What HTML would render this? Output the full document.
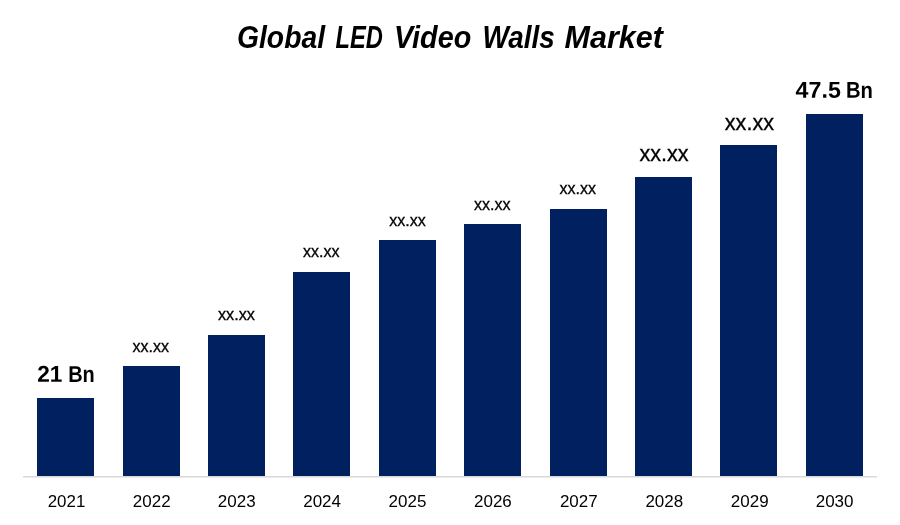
<!DOCTYPE html>
<html lang="en">
<head>
<meta charset="utf-8">
<title>Global LED Video Walls Market</title>
<style>
  html, body { margin: 0; padding: 0; background: #ffffff; }
  body { width: 900px; height: 525px; overflow: hidden; }
  svg { display: block; }
  text { font-family: "Liberation Sans", sans-serif; fill: #000000; }
  .title { font-size: 30px; font-weight: bold; font-style: italic; }
  .yr { font-size: 17px; fill: #000000; }
  .sm { font-size: 17px; stroke: #000; stroke-width: 0.3px; }
  .lg { font-size: 22px; stroke: #000; stroke-width: 0.3px; }
  .bn { font-size: 23px; font-weight: bold; }
  .bar { fill: #002060; }
</style>
</head>
<body>
<svg width="900" height="525" viewBox="0 0 900 525">
  <rect x="0" y="0" width="900" height="525" fill="#ffffff"/>

  <!-- title -->
  <text class="title" y="47" transform="matrix(1 0 0 1.02 0 -0.4)"><tspan x="237" textLength="88" lengthAdjust="spacingAndGlyphs">Global</tspan> <tspan x="335.6" textLength="47.4" lengthAdjust="spacingAndGlyphs">LED</tspan> <tspan x="394" textLength="77.3" lengthAdjust="spacingAndGlyphs">Video</tspan> <tspan x="482.4" textLength="72.4" lengthAdjust="spacingAndGlyphs">Walls</tspan> <tspan x="564.6" textLength="98.4" lengthAdjust="spacingAndGlyphs">Market</tspan></text>

  <!-- axis -->
  <rect x="23" y="476" width="854" height="1.5" fill="#d8d8d8"/>

  <!-- bars -->
  <rect class="bar" x="37"  y="398" width="57" height="78"/>
  <rect class="bar" x="123" y="366" width="57" height="110"/>
  <rect class="bar" x="208" y="335" width="57" height="141"/>
  <rect class="bar" x="293" y="272" width="57" height="204"/>
  <rect class="bar" x="379" y="240" width="57" height="236"/>
  <rect class="bar" x="464" y="224" width="57" height="252"/>
  <rect class="bar" x="550" y="209" width="57" height="267"/>
  <rect class="bar" x="635" y="177" width="57" height="299"/>
  <rect class="bar" x="720" y="145" width="57" height="331"/>
  <rect class="bar" x="806" y="114" width="57" height="362"/>

  <!-- value labels -->
  <text class="bn" y="382" transform="matrix(1 0.003 0 1 0 -0.3)"><tspan x="37.2" textLength="25.2" lengthAdjust="spacingAndGlyphs">21</tspan> <tspan x="68.2" textLength="26.6" lengthAdjust="spacingAndGlyphs">Bn</tspan></text>
  <text class="sm" x="132.4" y="352" textLength="36.6" lengthAdjust="spacingAndGlyphs">xx.xx</text>
  <text class="sm" x="217.9" y="320" textLength="37" lengthAdjust="spacingAndGlyphs">xx.xx</text>
  <text class="sm" x="303" y="257" textLength="36.6" lengthAdjust="spacingAndGlyphs">xx.xx</text>
  <text class="sm" x="389.2" y="226" textLength="36.6" lengthAdjust="spacingAndGlyphs">xx.xx</text>
  <text class="sm" x="474" y="210" textLength="36.6" lengthAdjust="spacingAndGlyphs">xx.xx</text>
  <text class="sm" x="559.4" y="194" textLength="36.6" lengthAdjust="spacingAndGlyphs">xx.xx</text>
  <text class="lg" x="639.4" y="161" textLength="49.2" lengthAdjust="spacingAndGlyphs">xx.xx</text>
  <text class="lg" x="724.8" y="130" textLength="49.2" lengthAdjust="spacingAndGlyphs">xx.xx</text>
  <text class="bn" y="98" transform="matrix(1 0.003 0 1 0 -2.7)"><tspan x="795.6" textLength="45.3" lengthAdjust="spacingAndGlyphs">47.5</tspan> <tspan x="845.9" textLength="27" lengthAdjust="spacingAndGlyphs">Bn</tspan></text>

  <!-- year labels -->
  <text class="yr" x="47.7"  y="507" textLength="37.6" lengthAdjust="spacingAndGlyphs">2021</text>
  <text class="yr" x="132.8" y="507" textLength="37.8" lengthAdjust="spacingAndGlyphs">2022</text>
  <text class="yr" x="217.8" y="507" textLength="37.8" lengthAdjust="spacingAndGlyphs">2023</text>
  <text class="yr" x="303.2" y="507" textLength="37.8" lengthAdjust="spacingAndGlyphs">2024</text>
  <text class="yr" x="388.6" y="507" textLength="37.8" lengthAdjust="spacingAndGlyphs">2025</text>
  <text class="yr" x="474"   y="507" textLength="37.8" lengthAdjust="spacingAndGlyphs">2026</text>
  <text class="yr" x="559.9" y="507" textLength="37.8" lengthAdjust="spacingAndGlyphs">2027</text>
  <text class="yr" x="645.4" y="507" textLength="37.8" lengthAdjust="spacingAndGlyphs">2028</text>
  <text class="yr" x="730.8" y="507" textLength="37.8" lengthAdjust="spacingAndGlyphs">2029</text>
  <text class="yr" x="815.7" y="507" textLength="37.8" lengthAdjust="spacingAndGlyphs">2030</text>
</svg>
</body>
</html>
